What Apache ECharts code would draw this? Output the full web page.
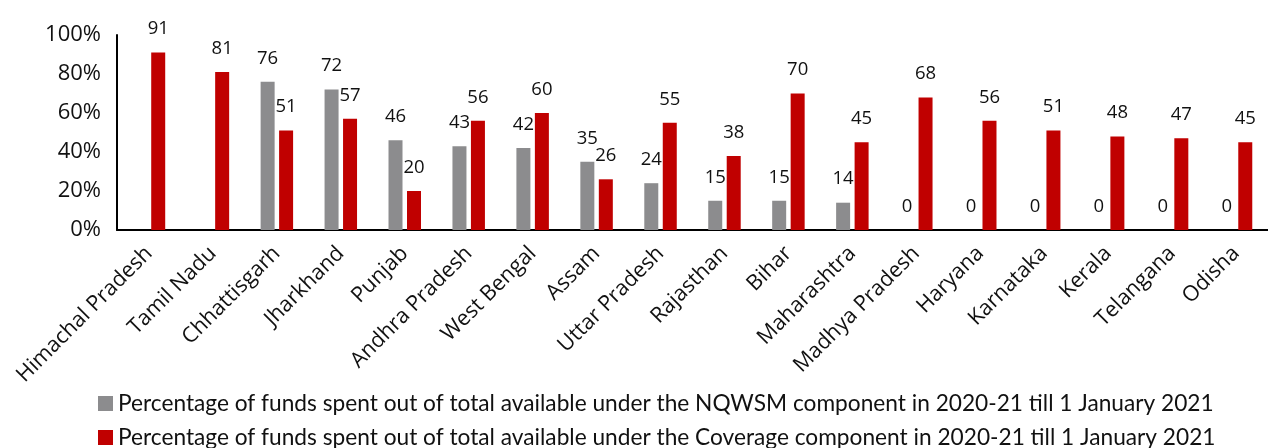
<!DOCTYPE html>
<html><head><meta charset="utf-8">
<script src="https://cdn.jsdelivr.net/npm/echarts@6/dist/echarts.min.js"></script>
<style>html,body{margin:0;padding:0;background:#fff}#c{width:1268px;height:448px}</style>
</head><body><div id="c"></div>
<script>
const categories = ["Himachal Pradesh","Tamil Nadu","Chhattisgarh","Jharkhand","Punjab","Andhra Pradesh","West Bengal","Assam","Uttar Pradesh","Rajasthan","Bihar","Maharashtra","Madhya Pradesh","Haryana","Karnataka","Kerala","Telangana","Odisha"];
const nqwsm = [null,null,76,72,46,43,42,35,24,15,15,14,0,0,0,0,0,0];
const coverage = [91,81,51,57,20,56,60,26,55,38,70,45,68,56,51,48,47,45];
const yTicks = [0,20,40,60,80,100];
const seriesNames = ["Percentage of funds spent out of total available under the NQWSM component in 2020-21 till 1 January 2021","Percentage of funds spent out of total available under the Coverage component in 2020-21 till 1 January 2021"];

const chart = echarts.init(document.getElementById('c'), null, {renderer:'canvas'});
const lbl = {show:true, position:'top', distance:14, color:'#111', fontFamily:'Open Sans', fontSize:18.5};
chart.setOption({
  animation:false,
  grid:{left:117, top:35, width:1162, height:195},
  legend:{orient:'vertical', left:93, top:387, height:80, itemWidth:15, itemHeight:15, itemGap:11,
    icon:'rect', textStyle:{fontFamily:'Lato', fontSize:22.7, color:'#111', lineHeight:23}},
  xAxis:{type:'category', data:categories,
    axisLine:{lineStyle:{color:'#000', width:2}}, axisTick:{show:false},
    axisLabel:{rotate:45, interval:0, margin:20, fontFamily:'Open Sans', fontSize:21.5, color:'#111'}},
  yAxis:{type:'value', min:yTicks[0], max:yTicks[yTicks.length-1], interval:20,
    axisLine:{show:true, lineStyle:{color:'#000', width:2}}, axisTick:{show:false},
    splitLine:{show:false},
    axisLabel:{margin:16, fontFamily:'Open Sans', fontSize:22, color:'#111', formatter:v=>v+'%'}},
  series:[
    {name:seriesNames[0], type:'bar', data:nqwsm, barWidth:14, barGap:'32%',
     itemStyle:{color:'#8c8c8e'}, label:lbl},
    {name:seriesNames[1], type:'bar', data:coverage, barWidth:14, barGap:'32%',
     itemStyle:{color:'#c00000'}, label:lbl}
  ]
});
</script></body></html>
